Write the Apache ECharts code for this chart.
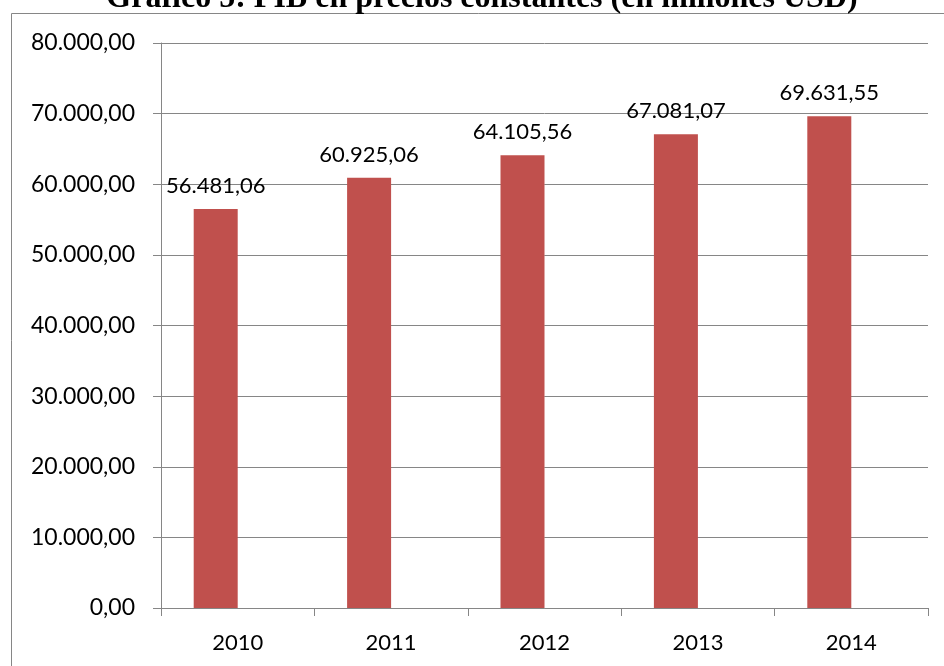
<!DOCTYPE html>
<html>
<head>
<meta charset="utf-8">
<script src="https://cdn.jsdelivr.net/npm/echarts@6/dist/echarts.min.js"></script>
<style>html,body{margin:0;padding:0;background:#fff;}#c{width:944px;height:666px;}</style>
</head>
<body>
<div id="c"></div>
<script>
const titleText = 'Gráfico 5: PIB en precios constantes (en millones USD)';
const categories = ['2010', '2011', '2012', '2013', '2014'];
const pibValues = [56481.06, 60925.06, 64105.56, 67081.07, 69631.55];
const emptySeries = [null, null, null, null, null];
const yTicks = { min: 0, max: 80000, interval: 10000 };

function fmt(v) {
  const neg = v < 0;
  v = Math.abs(v);
  let [i, d] = v.toFixed(2).split('.');
  i = i.replace(/\B(?=(\d{3})+(?!\d))/g, '.');
  return (neg ? '-' : '') + i + ',' + d;
}

const font = 'Lato';
const gray = '#868686';
const chart = echarts.init(document.getElementById('c'), null, { renderer: 'canvas' });
chart.setOption({
  animation: false,
  backgroundColor: '#fff',
  title: {
    text: titleText,
    left: 482,
    textAlign: 'center',
    top: -17,
    padding: 0,
    textStyle: { fontFamily: 'Liberation Serif', fontWeight: 'bold', fontSize: 32, color: '#000' }
  },
  graphic: [{
    type: 'rect',
    shape: { x: 11.5, y: 13.5, width: 1200, height: 1200 },
    style: { fill: 'none', stroke: gray, lineWidth: 1 },
    z: -1
  }],
  grid: { left: 161, right: 16, top: 43, bottom: 58, containLabel: false },
  xAxis: {
    type: 'category',
    data: categories,
    axisLine: { lineStyle: { color: gray } },
    axisTick: { show: true, length: 8, alignWithLabel: false, lineStyle: { color: gray } },
    axisLabel: { fontFamily: font, fontSize: 22, color: '#000', margin: 24 }
  },
  yAxis: {
    type: 'value',
    min: yTicks.min, max: yTicks.max, interval: yTicks.interval,
    axisLine: { show: true, lineStyle: { color: gray } },
    axisTick: { show: true, length: 8, lineStyle: { color: gray } },
    splitLine: { show: true, lineStyle: { color: gray } },
    axisLabel: { fontFamily: font, fontSize: 23, color: '#000', margin: 26, formatter: fmt }
  },
  series: [
    {
      type: 'bar',
      data: pibValues,
      barWidth: 44,
      barGap: '0%',
      itemStyle: { color: '#C0504D' },
      label: {
        show: true, position: 'top', distance: 12,
        fontFamily: font, fontSize: 22, color: '#000',
        formatter: p => fmt(p.value)
      }
    },
    {
      type: 'bar',
      data: emptySeries,
      barWidth: 44,
      barGap: '0%',
      itemStyle: { color: '#4F81BD' }
    }
  ]
});
</script>
</body>
</html>
